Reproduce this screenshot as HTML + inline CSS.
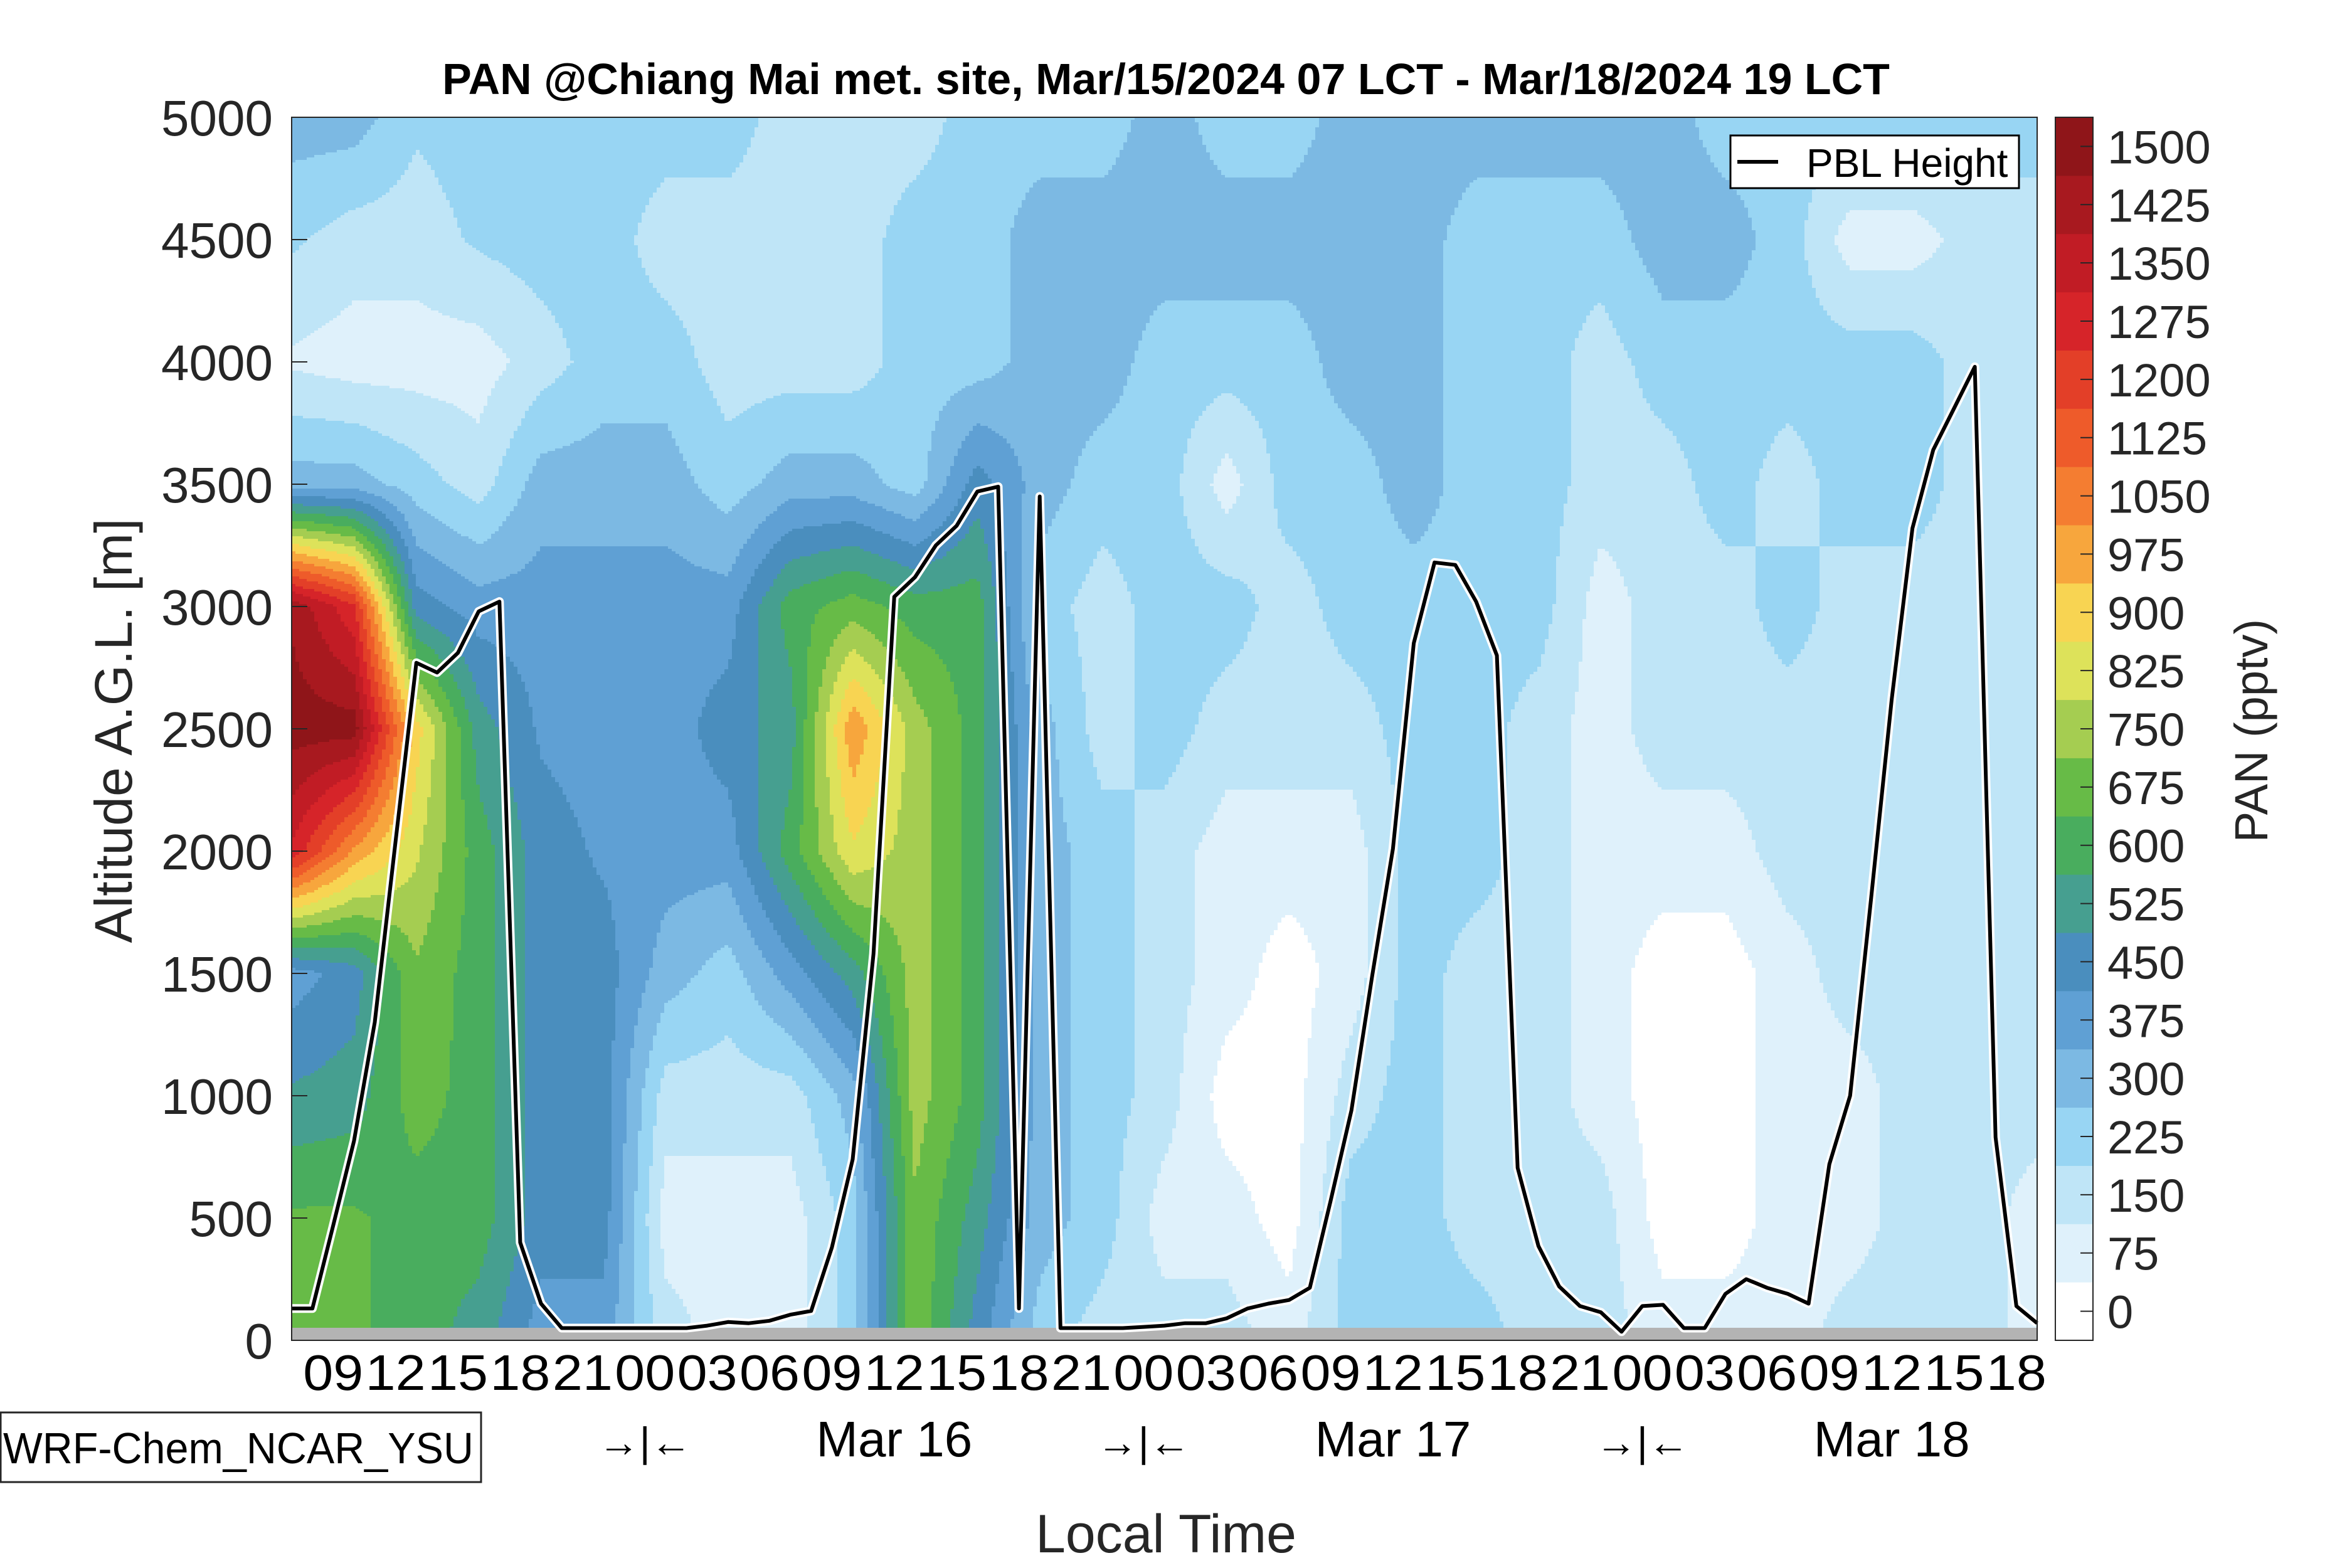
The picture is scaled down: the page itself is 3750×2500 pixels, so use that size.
<!DOCTYPE html>
<html><head><meta charset="utf-8"><style>
html,body{margin:0;padding:0;background:#fff;}
svg{display:block;font-family:"Liberation Sans",sans-serif;}
</style></head><body>
<svg id="chart" width="3750" height="2500" viewBox="0 0 3750 2500" xmlns="http://www.w3.org/2000/svg">
<rect x="0" y="0" width="3750" height="2500" fill="#fff"/>
<g id="field"></g>
<rect x="465" y="2117" width="2783" height="20" fill="#b3b3b3"/>
<g id="pbl"></g>
<rect x="465" y="187" width="2783" height="1950" fill="none" stroke="#262626" stroke-width="2"/>
<g id="yaxis"></g>
<g id="xaxis"></g>
<g id="cbar"></g>
<text x="1859" y="150" font-size="70" font-weight="bold" text-anchor="middle" fill="#000">PAN @Chiang Mai met. site, Mar/15/2024 07 LCT - Mar/18/2024 19 LCT</text>
<text transform="translate(210,1165) rotate(-90)" font-size="84" text-anchor="middle" fill="#262626">Altitude A.G.L. [m]</text>
<text x="1859" y="2475" font-size="86" text-anchor="middle" fill="#262626">Local Time</text>
<text transform="translate(3615,1165) rotate(-90)" font-size="74" text-anchor="middle" fill="#262626">PAN (pptv)</text>
<g>
<rect x="2759" y="216" width="460" height="84" fill="#fff" stroke="#000" stroke-width="3"/>
<line x1="2770" y1="258" x2="2835" y2="258" stroke="#000" stroke-width="6"/>
<text x="2880" y="282" font-size="64" fill="#000">PBL Height</text>
</g>
<g>
<rect x="1" y="2252" width="766" height="111" fill="#fff" stroke="#262626" stroke-width="3"/>
<text x="5" y="2333" font-size="70" fill="#000" textLength="750" lengthAdjust="spacingAndGlyphs">WRF-Chem_NCAR_YSU</text>
</g>
</svg>
<script>
// ---- data ----
const gridHours = [0,3,6,9,12,15,18,21,24,27,30,33,36,39,42,45,48,51,54,57,60,63,66,69,72,75,78,81,84];
const gridHeights = [0,500,1000,1500,2000,2500,3000,3500,4000,4500,5000];
// PAN (pptv) per time column, bottom to top
const panT0  = [650,650,500,375,1300,1500,1450,300,100,200,300];
const panT3  = [650,650,525,450,1000,1500,1250,300,75,150,300];
const panT6  = [600,600,675,700,800,900,450,225,75,150,200];
const panT9  = [525,600,600,600,600,525,375,150,75,200,225];
const panT12 = [375,450,450,450,450,400,375,300,150,225,225];
const panT15 = [375,450,450,450,400,375,375,300,225,225,225];
const panT18 = [150,75,150,300,375,375,375,300,225,150,225];
const panT21 = [75,75,150,225,375,450,375,225,150,150,225];
const panT24 = [75,75,150,375,600,525,600,300,150,150,150];
const panT27 = [225,225,300,525,850,1000,675,300,150,150,150];
const panT30 = [700,700,750,750,750,750,600,225,225,225,150];
const panT33 = [450,525,600,600,600,600,600,450,225,225,225];
const panT36 = [225,300,300,300,300,300,225,300,300,300,225];
const panT39 = [150,225,225,225,225,150,150,225,300,300,225];
const panT42 = [150,75,150,150,150,225,225,225,225,300,300];
const panT45 = [150,75,0,75,75,150,225,75,225,300,225];
const panT48 = [75,0,0,0,75,150,150,225,225,300,225];
const panT51 = [225,225,150,75,75,150,225,225,300,300,300];
const panT54 = [225,225,225,225,225,225,225,300,300,300,300];
const panT57 = [225,150,150,150,225,225,225,225,225,225,300];
const panT60 = [150,150,150,150,150,150,225,225,225,225,300];
const panT63 = [150,150,75,75,75,75,75,150,150,225,300];
const panT66 = [75,0,0,0,75,150,150,150,225,300,300];
const panT69 = [75,0,0,0,75,150,150,225,225,300,225];
const panT72 = [75,75,75,75,150,150,225,150,225,225,225];
const panT75 = [150,75,75,150,150,150,150,225,225,75,225];
const panT78 = [150,150,150,150,150,150,150,225,225,75,225];
const panT81 = [150,150,150,150,150,150,150,150,150,150,225];
const panT84 = [75,75,150,150,150,150,150,150,150,150,225];
const panColumns = [panT0,panT3,panT6,panT9,panT12,panT15,panT18,panT21,panT24,panT27,panT30,panT33,panT36,panT39,panT42,panT45,panT48,panT51,panT54,panT57,panT60,panT63,panT66,panT69,panT72,panT75,panT78,panT81,panT84];
const pblHours = Array.from({length:85},(_, i)=>i);
const pblHeights = [130,130,470,815,1300,2040,2770,2730,2810,2980,3020,400,150,50,50,50,50,50,50,50,60,75,70,80,105,120,380,740,1580,3040,3120,3250,3330,3470,3490,130,3450,50,50,50,50,55,60,70,70,90,130,150,165,215,570,940,1490,2010,2850,3180,3170,3020,2800,705,385,220,140,115,35,140,145,50,50,190,250,215,190,150,720,1000,1800,2620,3320,3640,3810,3980,830,140,70];
const levels = [0,75,150,225,300,375,450,525,600,675,750,825,900,975,1050,1125,1200,1275,1350,1425,1500];
const levelColors = ["#ffffff","#dff1fb","#bfe5f7","#98d5f3","#7cb9e3","#5fa0d4","#4a8ebe","#469f90","#49ad5e","#67bb47","#a5cd51","#dde25a","#f8d452","#f7a63d","#f47d31","#ee5b2a","#e33f28","#d62429","#c11c25","#a8191f","#8f1519"];
const xTickHours = [2,5,8,11,14,17,20,23,26,29,32,35,38,41,44,47,50,53,56,59,62,65,68,71,74,77,80,83];
const xTickLabels = ["09","12","15","18","21","00","03","06","09","12","15","18","21","00","03","06","09","12","15","18","21","00","03","06","09","12","15","18"];
const yTicks = [0,500,1000,1500,2000,2500,3000,3500,4000,4500,5000];
const dayLabels = ["\u2192|\u2190","Mar 16","\u2192|\u2190","Mar 17","\u2192|\u2190","Mar 18"];
const dayLabelHours = [17,29,41,53,65,77];

// ---- axes ----
const X0=465,X1=3248,Y0=2137,Y1=187,TMAX=84,HMAX=5000;
function xs(t){return X0+t*(X1-X0)/TMAX;}
function ys(h){return Y0-h*(Y0-Y1)/HMAX;}
function ts(px){return (px-X0)*TMAX/(X1-X0);}
function hs(py){return (Y0-py)*HMAX/(Y0-Y1);}
const NS="http://www.w3.org/2000/svg";
function mk(tag,attrs,parent){const e=document.createElementNS(NS,tag);for(const k in attrs)e.setAttribute(k,attrs[k]);parent.appendChild(e);return e;}

function valueAt(t,h){
  let i=0;while(i<gridHours.length-2&&t>gridHours[i+1])i++;
  let j=0;while(j<gridHeights.length-2&&h>gridHeights[j+1])j++;
  const ft=Math.min(1,Math.max(0,(t-gridHours[i])/(gridHours[i+1]-gridHours[i])));
  const fh=Math.min(1,Math.max(0,(h-gridHeights[j])/(gridHeights[j+1]-gridHeights[j])));
  const a=panColumns[i][j],b=panColumns[i+1][j],c=panColumns[i][j+1],d=panColumns[i+1][j+1];
  return (a*(1-ft)+b*ft)*(1-fh)+(c*(1-ft)+d*ft)*fh;
}
function colorIdx(v){return Math.max(0,Math.min(levels.length-1,Math.round(v/75)));}

// field
const field=document.getElementById('field');
const CW=6,CH=4;
function addCell(px,y0,w,y1,idx){
  const r=mk('rect',{x:px,y:y0,width:w+0.6,height:y1-y0+0.6,fill:levelColors[idx]},field);
  
  
}
for(let px=X0;px<X1;px+=CW){
  const w=Math.min(CW,X1-px);const t=ts(px+w/2);
  let runStart=Y1,runIdx=-1;
  for(let py=Y1;py<Y0;py+=CH){
    const idx=colorIdx(valueAt(t,hs(py+CH/2)));
    if(idx!==runIdx){
      if(runIdx>=0)addCell(px,runStart,w,py,runIdx);
      runStart=py;runIdx=idx;
    }
  }
  if(runIdx>=0)addCell(px,runStart,w,Y0,runIdx);
}

// PBL line
const pbl=document.getElementById('pbl');
const pts=pblHours.map((t,i)=>xs(t).toFixed(1)+','+ys(pblHeights[i]).toFixed(1)).join(' ');
const halo=mk('polyline',{points:pts,fill:'none',stroke:'#fff','stroke-width':14,'stroke-linejoin':'round'},pbl);


const pl=mk('polyline',{points:pts,fill:'none',stroke:'#000','stroke-width':6,'stroke-linejoin':'round'},pbl);



// y axis
const ya=document.getElementById('yaxis');
yTicks.forEach(v=>{
  const tk=mk('line',{x1:X0,x2:X0+25,y1:ys(v),y2:ys(v),stroke:'#262626','stroke-width':2},ya);
  
  
  const tx=mk('text',{x:435,y:ys(v)+29,'font-size':80,'text-anchor':'end',fill:'#262626'},ya);
  
  
  tx.textContent=v;
});
// x axis
const xa=document.getElementById('xaxis');
xTickHours.forEach((t,i)=>{
  const tx=mk('text',{x:xs(t),y:2216,'font-size':80,'text-anchor':'middle',fill:'#000',textLength:96,lengthAdjust:'spacingAndGlyphs'},xa);
  
  
  tx.textContent=xTickLabels[i];
});
dayLabels.forEach((s,i)=>{
  const tx=mk('text',{x:xs(dayLabelHours[i]),y:2322,'font-size':i%2?80:66,'text-anchor':'middle',fill:'#000'},xa);
  
  
  tx.textContent=s;
});
// colorbar
const cb=document.getElementById('cbar');
const CBX=3277,CBW=60,bh=(Y0-Y1)/levels.length;
levels.forEach((lv,i)=>{
  const y=Y0-(i+1)*bh;
  const r=mk('rect',{x:CBX,y:y,width:CBW,height:bh+0.5,fill:levelColors[i]},cb);
  
  
  const tk=mk('line',{x1:CBX+CBW-20,x2:CBX+CBW,y1:y+bh/2,y2:y+bh/2,stroke:'#262626','stroke-width':2},cb);
  
  
  const tx=mk('text',{x:3360,y:y+bh/2+27,'font-size':74,fill:'#262626'},cb);
  
  
  tx.textContent=lv;
});
const cbf=mk('rect',{x:CBX,y:Y1,width:CBW,height:Y0-Y1,fill:'none',stroke:'#262626','stroke-width':2},cb);


</script>
</body></html>
